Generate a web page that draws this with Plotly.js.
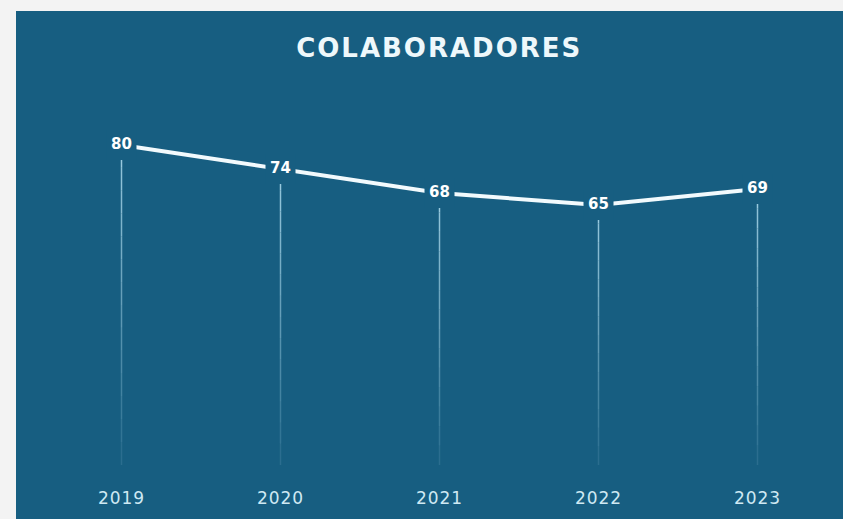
<!DOCTYPE html>
<html><head><meta charset="utf-8">
<script src="https://cdn.plot.ly/plotly-3.0.1.min.js"></script>
<style>
html,body{margin:0;padding:0;background:#f3f3f3;}#chart{width:843px;height:519px;}
#chart .gtitle{letter-spacing:2px;}
#chart .xtick text{letter-spacing:1px;}
</style>
</head><body><div id="chart"></div>
<script>
const years = ['2019','2020','2021','2022','2023'];
const colaboradores = [80, 74, 68, 65, 69];
const chartTitle = 'COLABORADORES';

const panel = '#175e81';
const traces = [];
// fading vertical drop lines from each value down to zero
const N = 14;
for (let k = 0; k < N; k++) {
  const xs = [], ys = [];
  years.forEach((yr, i) => {
    const v = colaboradores[i];
    xs.push(yr, yr, null);
    ys.push(v * (1 - k / N), v * (1 - (k + 1) / N), null);
  });
  const a = 0.85 - 0.72 * k / (N - 1);
  traces.push({x: xs, y: ys, mode: 'lines', type: 'scatter', hoverinfo: 'skip',
    line: {color: 'rgba(175,220,238,' + a.toFixed(3) + ')', width: 1.5}, showlegend: false});
}
traces.push({
  x: years, y: colaboradores, type: 'scatter', mode: 'lines+markers+text',
  text: colaboradores.map(String), textposition: 'middle center',
  textfont: {family: 'DejaVu Sans', size: 15, color: '#ffffff', weight: 'bold'},
  line: {color: '#f2fafd', width: 4},
  marker: {symbol: 'square', size: 30, color: panel},
  showlegend: false, cliponaxis: false
});

const layout = {
  width: 843, height: 519,
  paper_bgcolor: '#f3f3f3', plot_bgcolor: 'rgba(0,0,0,0)',
  margin: {l: 42, r: 6, t: 100, b: 49},
  title: {text: chartTitle, x: 0.521, xanchor: 'center', y: 0.907, yanchor: 'middle', yref: 'container',
    font: {family: 'DejaVu Sans', size: 26, color: '#eef8fb', weight: 'bold'}},
  xaxis: {type: 'category', range: [-0.5, 4.5], showgrid: false, zeroline: false, showline: false,
    ticks: '', tickfont: {family: 'DejaVu Sans', size: 17, color: '#cfe9f3'}, ticklabelstandoff: 16, fixedrange: true},
  yaxis: {range: [-1.25, 91.25], showgrid: false, zeroline: false, showline: false, showticklabels: false, ticks: '', fixedrange: true},
  shapes: [{type: 'rect', xref: 'paper', yref: 'paper', x0: -0.0327, x1: 1.01, y0: -0.14, y1: 1.2405,
    fillcolor: panel, line: {width: 0}, layer: 'below'}]
};
Plotly.newPlot('chart', traces, layout, {displayModeBar: false, staticPlot: true});
</script></body></html>
